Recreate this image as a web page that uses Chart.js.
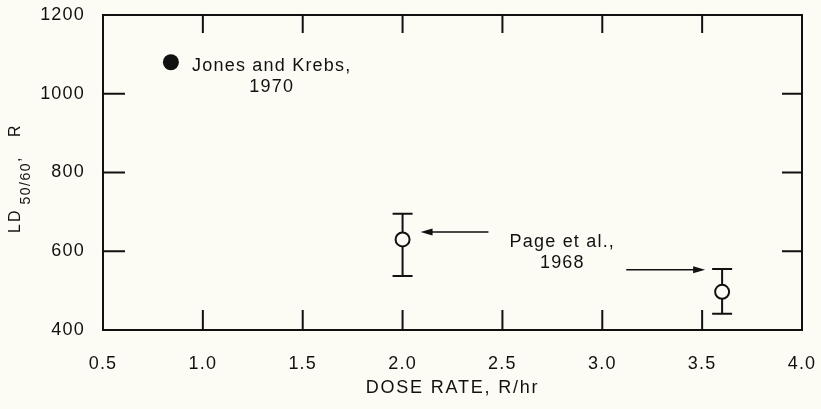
<!DOCTYPE html>
<html>
<head>
<meta charset="utf-8">
<script src="https://cdn.jsdelivr.net/npm/chart.js@4"></script>
<style>
  html, body { margin: 0; padding: 0; background: #fdfcf4; }
  canvas { display: block; }
</style>
</head>
<body>
<canvas id="c" width="821" height="409"></canvas>
<script>
// ---- data ----
const jonesDose = [0.84];
const jonesLD = [1080];
const pageDose = [2.0, 3.6];
const pageLD = [630, 497];
const pageLow = [537, 441];
const pageHigh = [695, 555];
const xTickValues = [0.5, 1.0, 1.5, 2.0, 2.5, 3.0, 3.5, 4.0];
const yTickValues = [400, 600, 800, 1000, 1200];
const xTitle = 'DOSE RATE, R/hr';
const jonesNote = ['Jones and Krebs,', '1970'];
const pageNote = ['Page et al.,', '1968'];

// ---- annotation anchors, in data units ----
const jonesNoteAt = { x: 1.345, y: [1058, 1005] };
const pageNoteAt = { x: 2.80, y: [611, 558] };
const arrows = [
  { from: [2.43, 649], to: [2.09, 649] },
  { from: [3.12, 553], to: [3.515, 553] }
];

const BG = '#fdfcf4';
const INK = '#111111';
const FONT = '"Liberation Sans", Arial, Helvetica, sans-serif';

const paintPlugin = {
  id: 'paint',
  beforeDraw(chart) {
    const { ctx, width, height } = chart;
    ctx.save();
    ctx.fillStyle = BG;
    ctx.fillRect(0, 0, width, height);
    ctx.restore();
    ctx.letterSpacing = '1.2px';
  },
  beforeDatasetsDraw(chart) {
    const { ctx, chartArea: a, scales: { x, y } } = chart;
    ctx.save();
    ctx.strokeStyle = INK;
    ctx.fillStyle = INK;
    ctx.lineWidth = 2;
    ctx.lineCap = 'square';
    // frame
    ctx.strokeRect(a.left, a.top, a.right - a.left, a.bottom - a.top);
    ctx.lineCap = 'butt';
    // inward ticks
    ctx.beginPath();
    xTickValues.slice(1, -1).forEach(v => {
      const px = x.getPixelForValue(v);
      ctx.moveTo(px, a.bottom); ctx.lineTo(px, a.bottom - 20);
      ctx.moveTo(px, a.top); ctx.lineTo(px, a.top + 18);
    });
    yTickValues.slice(1, -1).forEach(v => {
      const py = y.getPixelForValue(v);
      ctx.moveTo(a.left, py); ctx.lineTo(a.left + 22, py);
      ctx.moveTo(a.right, py); ctx.lineTo(a.right - 20, py);
    });
    ctx.stroke();
    // error bars
    ctx.beginPath();
    pageDose.forEach((d, i) => {
      const px = x.getPixelForValue(d);
      const hi = y.getPixelForValue(pageHigh[i]);
      const lo = y.getPixelForValue(pageLow[i]);
      ctx.moveTo(px, hi); ctx.lineTo(px, lo);
      ctx.moveTo(px - 10, hi); ctx.lineTo(px + 10, hi);
      ctx.moveTo(px - 10, lo); ctx.lineTo(px + 10, lo);
    });
    ctx.stroke();
    // arrows
    arrows.forEach(ar => {
      const x0 = x.getPixelForValue(ar.from[0]), y0 = y.getPixelForValue(ar.from[1]);
      const x1 = x.getPixelForValue(ar.to[0]), y1 = y.getPixelForValue(ar.to[1]);
      const dir = Math.sign(x1 - x0);
      ctx.beginPath();
      ctx.moveTo(x0, y0); ctx.lineTo(x1 - dir * 8, y1);
      ctx.lineWidth = 1.6;
      ctx.stroke();
      ctx.beginPath();
      ctx.moveTo(x1, y1);
      ctx.lineTo(x1 - dir * 12, y1 - 3.5);
      ctx.lineTo(x1 - dir * 12, y1 + 3.5);
      ctx.closePath();
      ctx.fill();
    });
    // notes
    ctx.font = '18px ' + FONT;
    ctx.letterSpacing = '1.2px';
    ctx.textAlign = 'center';
    ctx.textBaseline = 'alphabetic';
    jonesNote.forEach((t, i) => ctx.fillText(t, x.getPixelForValue(jonesNoteAt.x), y.getPixelForValue(jonesNoteAt.y[i])));
    pageNote.forEach((t, i) => ctx.fillText(t, x.getPixelForValue(pageNoteAt.x), y.getPixelForValue(pageNoteAt.y[i])));
    // x title
    ctx.letterSpacing = '1.8px';
    ctx.fillText(xTitle, (a.left + a.right) / 2, 393);
    // y title: LD with subscript 50/60, then ", R"
    ctx.translate(20, 233);
    ctx.rotate(-Math.PI / 2);
    ctx.textAlign = 'left';
    ctx.font = '16px ' + FONT;
    ctx.letterSpacing = '2px';
    ctx.fillText('LD', 0, 0);
    let w = ctx.measureText('LD').width;
    ctx.font = '14px ' + FONT;
    ctx.letterSpacing = '1.5px';
    ctx.fillText('50/60', w + 4, 10);
    w += 4 + ctx.measureText('50/60').width;
    ctx.font = '16px ' + FONT;
    ctx.letterSpacing = '2px';
    ctx.fillText(',', w, 0);
    ctx.fillText('R', w + 25, 0);
    ctx.restore();
    ctx.letterSpacing = '1.2px';
  }
};

new Chart(document.getElementById('c'), {
  type: 'scatter',
  data: {
    datasets: [
      {
        label: 'Jones and Krebs, 1970',
        data: jonesDose.map((d, i) => ({ x: d, y: jonesLD[i] })),
        pointRadius: 8,
        pointBackgroundColor: INK,
        pointBorderColor: INK,
        pointBorderWidth: 0
      },
      {
        label: 'Page et al., 1968',
        data: pageDose.map((d, i) => ({ x: d, y: pageLD[i] })),
        pointRadius: 7,
        pointBackgroundColor: BG,
        pointBorderColor: INK,
        pointBorderWidth: 2
      }
    ]
  },
  options: {
    responsive: false,
    animation: false,
    events: [],
    layout: { padding: { left: 0, right: 19, top: 15, bottom: 0 } },
    plugins: { legend: { display: false }, tooltip: { enabled: false } },
    scales: {
      x: {
        type: 'linear',
        min: 0.5, max: 4.0,
        afterBuildTicks: s => { s.ticks = xTickValues.map(v => ({ value: v })); },
        afterFit: s => { s.height = 79; s.paddingLeft = 0; s.paddingRight = 0; },
        grid: { display: false },
        border: { display: false },
        ticks: {
          autoSkip: false, maxRotation: 0,
          padding: 15,
          color: INK,
          font: { family: FONT, size: 18 },
          callback: v => v.toFixed(1)
        }
      },
      y: {
        type: 'linear',
        min: 400, max: 1200,
        afterBuildTicks: s => { s.ticks = yTickValues.map(v => ({ value: v })); },
        afterFit: s => { s.width = 103; s.paddingTop = 0; s.paddingBottom = 0; },
        grid: { display: false },
        border: { display: false },
        ticks: {
          autoSkip: false,
          padding: 10,
          color: INK,
          font: { family: FONT, size: 18 },
          callback: v => String(v)
        }
      }
    }
  },
  plugins: [paintPlugin]
});
</script>
</body>
</html>
